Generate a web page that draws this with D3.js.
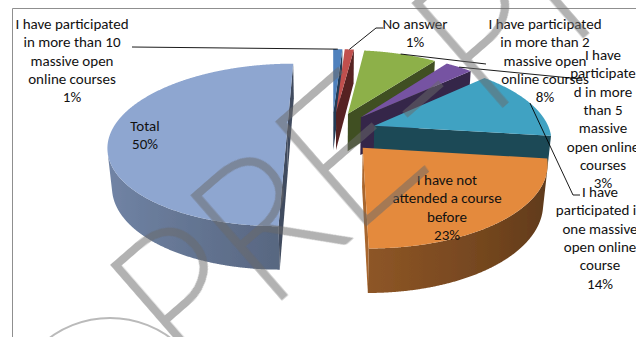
<!DOCTYPE html>
<html>
<head>
<meta charset="utf-8">
<script src="https://cdn.jsdelivr.net/npm/d3@7"></script>
<style>
  body { margin: 0; background: #fff; }
  svg { display: block; }
  .lbl { font-family: Carlito, Calibri, Lato, sans-serif; font-size: 15px; fill: #111; }
</style>
</head>
<body>
<svg id="chart" width="636" height="337"></svg>
<script>
// ---- data -------------------------------------------------------------
const categories = [
  "I have participated in more than 10 massive open online courses",
  "No answer",
  "I have participated in more than 2 massive open online courses",
  "I have participated in more than 5 massive open online courses",
  "I have participated in one massive open online course",
  "I have not attended a course before",
  "Total"
];
const shares = [1, 1, 8, 3, 14, 23, 50];            // percent of responses
const sliceColors = ["#4F81BD", "#C0504D", "#8DB04A", "#7652A2", "#40A2C2", "#E48A3D", "#8EA6D0"];
// how each category name is broken over lines in its data label
const labelWraps = [
  ["I have participated", "in more than 10", "massive open", "online courses"],
  ["No answer"],
  ["I have participated", "in more than 2", "massive open", "online courses"],
  ["I have", "participate", "d in more", "than 5", "massive", "open online", "courses"],
  ["I have", "participated in", "one massive", "open online", "course"],
  ["I have not", "attended a course", "before"],
  ["Total"]
];

// ---- layout -----------------------------------------------------------
const W = 636, H = 337;
const view = { cx: 332, cy: 132, R: 176, depth: 44, explode: 45, dist: 988, tiltSin: 0.45 };
const labelLayout = [
  { x: 72,  y: 29,  leader: [[132, 47]] },
  { x: 415, y: 29,  leader: [[383, 28], [376, 28]] },
  { x: 545, y: 29,  leader: [[486, 64]] },
  { x: 603, y: 60,  leader: [[581, 79]] },
  { x: 600, y: 197, leader: [[580, 195], [573, 195]] },
  { x: 447, y: 185 },
  { x: 145, y: 131 }
];
const lineStep = 18.3;

const svg = d3.select("#chart");
const defs = svg.append("defs");
defs.append("filter").attr("id", "soft")
  .attr("x", "-5%").attr("y", "-5%").attr("width", "110%").attr("height", "110%")
  .append("feGaussianBlur").attr("stdDeviation", 0.6);

// chart area frame
svg.append("path")
  .attr("d", `M12.5,${H} V8.5 H${W}`)
  .attr("fill", "none").attr("stroke", "#8f8f8f").attr("stroke-width", 1);

// ---- perspective projection of the tilted pie --------------------------
const cosT = Math.sqrt(1 - view.tiltSin * view.tiltSin), sinT = view.tiltSin;
const camV = view.dist * cosT;
function project(u, v, z) {
  const w = v * cosT + z * sinT;
  const yr = v * sinT - z * cosT;
  const k = view.dist / (view.dist - w);
  return [view.cx + k * u, view.cy + k * yr];
}
function unit(x, y) { const n = Math.hypot(x, y); return [x / n, y / n]; }
const wallLight = unit(-1, 0.1);
const faceLight = unit(-1, -0.3);
function wallShade(nu, nv) { return 0.6 + 0.2 * (nu * wallLight[0] + nv * wallLight[1]); }
function faceShade(nu, nv) { return 0.45 + 0.3 * Math.max(0, nu * faceLight[0] + nv * faceLight[1]); }
function scaleColor(c, f) { const r = d3.rgb(c); return d3.rgb(r.r * f, r.g * f, r.b * f).formatHex(); }

const pie = d3.pie().value(d => d).sort(null);
const slices = pie(shares).map((d, i) => {
  const mid = (d.startAngle + d.endAngle) / 2;
  return Object.assign({}, d, { i, mid,
    ou: view.explode * Math.sin(mid),
    ov: -view.explode * Math.cos(mid) });
});

const line = d3.line();
const pieG = svg.append("g").attr("filter", "url(#soft)");
const step = Math.PI / 720;

slices.slice().sort((a, b) => a.ov - b.ov).forEach(s => {
  const base = sliceColors[s.i];
  const rimU = a => s.ou + view.R * Math.sin(a);
  const rimV = a => s.ov - view.R * Math.cos(a);
  const rim = (a, z) => project(rimU(a), rimV(a), z);
  const ctr = z => project(s.ou, s.ov, z);
  const a0 = s.startAngle, a1 = s.endAngle;
  const n = Math.max(2, Math.ceil((a1 - a0) / step));
  const angles = d3.range(n + 1).map(k => a0 + (a1 - a0) * k / n);
  const g = pieG.append("g");

  // outer curved wall: only the part that faces the camera
  const vis = angles.filter(a => {
    const nu = Math.sin(a), nv = -Math.cos(a);
    return nu * (0 - rimU(a)) + nv * (camV - rimV(a)) > 0;
  });
  if (vis.length > 1) {
    const top = vis.map(a => rim(a, 0));
    const bot = vis.map(a => rim(a, -view.depth)).reverse();
    const xs = top.map(p => p[0]);
    const x0 = d3.min(xs), x1 = d3.max(xs);
    const gid = "wall" + s.i;
    const grad = defs.append("linearGradient").attr("id", gid)
      .attr("gradientUnits", "userSpaceOnUse")
      .attr("x1", x0).attr("x2", x1).attr("y1", 0).attr("y2", 0);
    const stops = vis.map((a, k) => ({ off: (top[k][0] - x0) / Math.max(1e-6, x1 - x0),
      col: scaleColor(base, wallShade(Math.sin(a), -Math.cos(a))) }))
      .sort((p, q) => p.off - q.off);
    stops.filter((d, k) => k % 6 === 0 || k === stops.length - 1)
      .forEach(st => grad.append("stop").attr("offset", st.off).attr("stop-color", st.col));
    g.append("path").attr("d", line(top.concat(bot)) + "Z").attr("fill", `url(#${gid})`);
  }

  // flat radial faces
  [[a0, -Math.cos(a0), -Math.sin(a0)], [a1, Math.cos(a1), Math.sin(a1)]].forEach(([a, nu, nv]) => {
    if (nu * (0 - s.ou) + nv * (camV - s.ov) <= 0) return;
    const pts = [ctr(0), rim(a, 0), rim(a, -view.depth), ctr(-view.depth)];
    g.append("path").attr("d", line(pts) + "Z").attr("fill", scaleColor(base, faceShade(nu, nv)));
  });

  // top face
  const topPts = [ctr(0)].concat(angles.map(a => rim(a, 0)));
  g.append("path").attr("d", line(topPts) + "Z").attr("fill", base);
});

// ---- leader lines and data labels --------------------------------------
const labelG = svg.append("g");
slices.forEach(s => {
  const L = labelLayout[s.i];
  if (L.leader) {
    const anchor = project(s.ou + view.R * Math.sin(s.mid), s.ov - view.R * Math.cos(s.mid), 0);
    labelG.append("path")
      .attr("d", line(L.leader.concat([anchor])))
      .attr("fill", "none").attr("stroke", "#000").attr("stroke-width", 0.9);
  }
  const lines = labelWraps[s.i].concat([`${shares[s.i]}%`]);
  const t = labelG.append("text").attr("class", "lbl").attr("text-anchor", "middle");
  lines.forEach((ln, k) => t.append("tspan").attr("x", L.x).attr("y", L.y + k * lineStep).text(ln));
});

// ---- watermark -----------------------------------------------------------
const wm = svg.append("g").attr("opacity", 0.52).attr("pointer-events", "none");
wm.append("text")
  .attr("transform", "translate(185,380) rotate(-41)")
  .attr("font-family", "Lato, 'DejaVu Sans', sans-serif")
  .attr("font-weight", 100)
  .attr("font-size", 190)
  .attr("fill", "#6a6a6a").attr("stroke", "#6a6a6a").attr("stroke-width", 6)
  .attr("stroke-linejoin", "miter")
  .text("PRE-PRINT");
wm.append("circle").attr("cx", 110).attr("cy", 420).attr("r", 102)
  .attr("fill", "none").attr("stroke", "#7a7a7a").attr("stroke-width", 2);
</script>
</body>
</html>
